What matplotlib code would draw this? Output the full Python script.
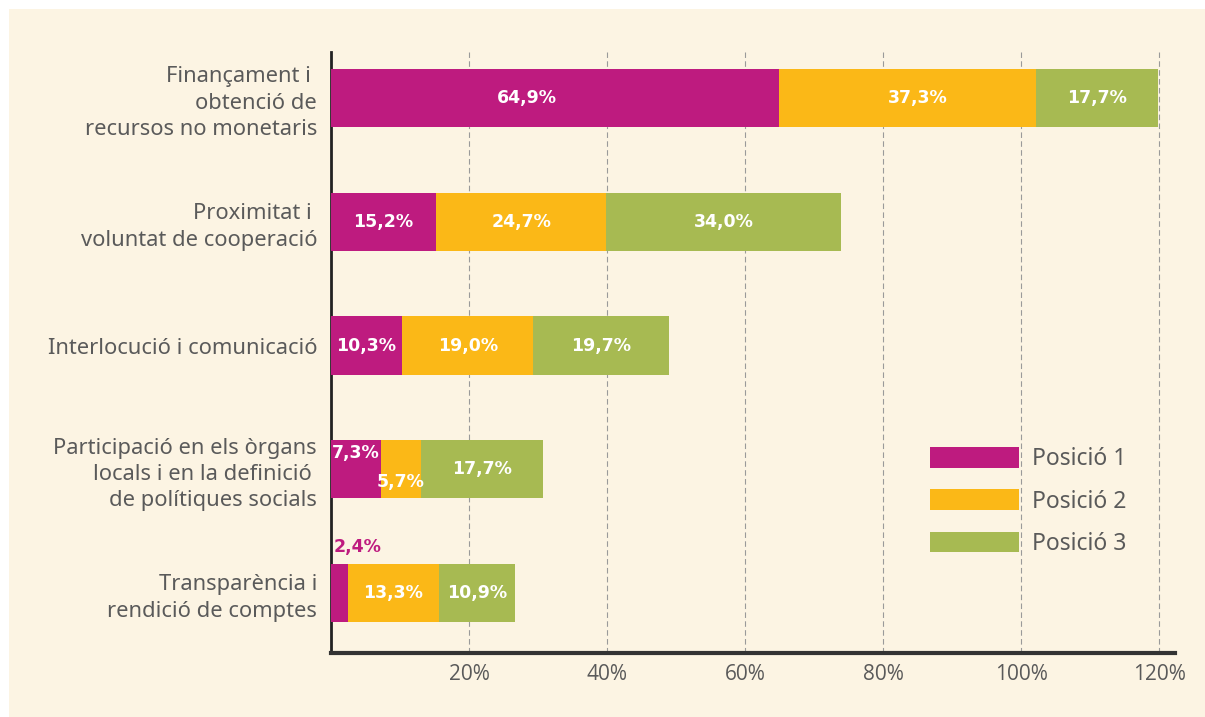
import numpy as np
import matplotlib
matplotlib.use("Agg")
from matplotlib import pyplot as plt
from matplotlib.patches import Rectangle

plt.rcParams['font.family'] = ['Noto Sans', 'DejaVu Sans']

# data
categories = ["Finançament i \nobtenció de\nrecursos no monetaris",
              "Proximitat i \nvoluntat de cooperació",
              "Interlocució i comunicació",
              "Participació en els òrgans\nlocals i en la definició \nde polítiques socials",
              "Transparència i\nrendició de comptes"]
pos1 = [64.9, 15.2, 10.3, 7.3, 2.4]
pos2 = [37.3, 24.7, 19.0, 5.7, 13.3]
pos3 = [17.7, 34.0, 19.7, 17.7, 10.9]
series_names = ["Posició 1", "Posició 2", "Posició 3"]
xticks = [20, 40, 60, 80, 100, 120]

colors = ["#BE1B7F", "#FBB817", "#A7BA52"]
bg = "#FCF4E3"
txt = "#5a5a5a"

fig = plt.figure(figsize=(12.05, 7.17), dpi=100)
fig.patch.set_facecolor("white")
fig.patches.append(Rectangle((9/1205, 0), 1, 1 - 9/717, transform=fig.transFigure,
                             facecolor=bg, edgecolor="none", zorder=-10))

ax = fig.add_axes([331/1205, 1 - 653/717, (1175-331)/1205, (653-52)/717])
ax.set_facecolor(bg)

y = np.arange(len(categories))
h = 0.47
left = np.zeros(len(categories))
for vals, c, name in zip([pos1, pos2, pos3], colors, series_names):
    vals = np.array(vals)
    ax.barh(y, vals, left=left, height=h, color=c, label=name, zorder=3)
    for i, (l, v) in enumerate(zip(left, vals)):
        s = f"{v:.1f}%".replace(".", ",")
        xc, yc, col, ha = l + v/2, y[i], "white", "center"
        if name == "Posició 1" and i == 0:
            xc -= 4
        if name == "Posició 2" and i == 0:
            xc += 1.5
        if name == "Posició 1" and i == 3:
            yc -= 0.13
        if name == "Posició 2" and i == 3:
            yc += 0.1
        if name == "Posició 1" and i == 4:
            xc, yc, col, ha = 0.4, y[i] - 0.37, colors[0], "left"
        ax.text(xc, yc, s, ha=ha, va="center", color=col, fontsize=12.5,
                fontweight="bold", family=['DejaVu Sans'], zorder=4)
    left = left + vals

ax.set_xlim(0, 122.3)
ax.set_ylim(4.485, -0.372)
ax.set_yticks(y)
ax.set_yticklabels(categories, fontsize=15.8, color=txt, linespacing=1.33)
ax.set_xticks(xticks)
ax.set_xticklabels([f"{t}%" for t in xticks], fontsize=15, color=txt,
                   family=['Open Sans', 'DejaVu Sans'])
ax.tick_params(axis="both", length=0)
ax.tick_params(axis="y", pad=10)
ax.tick_params(axis="x", pad=8)
for t in xticks:
    ax.axvline(t, color="#9a9a9a", lw=0.8, ls=(0, (5, 3)), zorder=1)

for s in ["top", "right"]:
    ax.spines[s].set_visible(False)
ax.spines["left"].set_color("#222222")
ax.spines["left"].set_linewidth(2)
ax.spines["bottom"].set_color("#333333")
ax.spines["bottom"].set_linewidth(3)

leg = ax.legend(loc="upper left", bbox_to_anchor=(930/1205, 1 - 447/717),
                bbox_transform=fig.transFigure, frameon=False, fontsize=16.5,
                handlelength=3.9, handleheight=1.0, labelspacing=0.8,
                handletextpad=0.55, borderpad=0, borderaxespad=0)
for t in leg.get_texts():
    t.set_color(txt)

plt.savefig("out.png", dpi=100, facecolor=fig.get_facecolor())
